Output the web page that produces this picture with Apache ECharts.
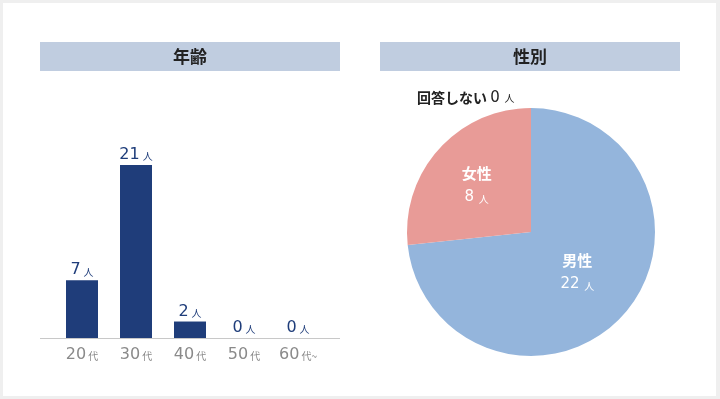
<!DOCTYPE html>
<html><head><meta charset="utf-8">
<script src="https://cdn.jsdelivr.net/npm/echarts@6/dist/echarts.min.js"></script>
<style>html,body{margin:0;padding:0;background:#fff}#c{width:720px;height:399px}</style>
</head><body><div id="c"></div>
<script>
const ageCategories = ['20', '30', '40', '50', '60'];
const ageSuffix = ['代', '代', '代', '代', '代~'];
const ageValues = [7, 21, 2, 0, 0];
const genderNames = ['男性', '女性'];
const genderValues = [22, 8];
const noAnswerName = '回答しない';
const noAnswerValue = 0;
const unit = '人';

const jp = '"Noto Sans CJK JP", sans-serif';
const num = '"DejaVu Sans", sans-serif';
const chart = echarts.init(document.getElementById('c'));
chart.setOption({
  backgroundColor: '#efefef',
  animation: false,
  graphic: [
    {type: 'rect', shape: {x: 3, y: 3, width: 713, height: 393}, style: {fill: '#fff'}, z: -10},
    {type: 'rect', shape: {x: 40, y: 42, width: 300, height: 29}, style: {fill: '#c0cde0'}},
    {type: 'text', x: 190, y: 57, style: {text: '年齢', font: 'bold 17px ' + jp, fill: '#222', align: 'center', verticalAlign: 'middle'}},
    {type: 'rect', shape: {x: 380, y: 42, width: 300, height: 29}, style: {fill: '#c0cde0'}},
    {type: 'text', x: 530, y: 57, style: {text: '性別', font: 'bold 17px ' + jp, fill: '#222', align: 'center', verticalAlign: 'middle'}},
    {type: 'line', shape: {x1: 40, y1: 338.5, x2: 340, y2: 338.5}, style: {stroke: '#c8c8c8', lineWidth: 1}, z: 5},
    {type: 'text', x: 417, y: 98, style: {
      text: '{n|' + noAnswerName + ' }{v|' + noAnswerValue + ' }{u|' + unit + '}',
      rich: {n: {font: 'bold 14px ' + jp, fill: '#222'}, v: {font: '15px ' + num, fill: '#222'}, u: {font: '10px ' + jp, fill: '#222'}},
      verticalAlign: 'middle'}}
  ],
  grid: {left: 55, width: 270, top: 132, height: 206},
  xAxis: {
    type: 'category', data: ageCategories,
    axisLine: {show: false}, axisTick: {show: false},
    axisLabel: {
      interval: 0, margin: 9,
      formatter: (v, i) => '{n|' + v + '}{s|' + ageSuffix[i] + '}',
      rich: {n: {fontSize: 16, color: '#8a8a8a', fontFamily: num}, s: {fontSize: 10, color: '#8a8a8a', fontFamily: jp, padding: [3, 0, 0, 2]}}
    }
  },
  yAxis: {type: 'value', min: 0, max: 25, show: false, splitLine: {show: false}},
  series: [
    {
      type: 'bar', data: ageValues, barWidth: 32,
      itemStyle: {color: '#1f3d7a'},
      label: {
        show: true, position: 'top', distance: 2,
        formatter: p => '{n|' + p.value + '}{u|' + unit + '}',
        rich: {n: {fontSize: 16, color: '#1f3d7a', fontFamily: num}, u: {fontSize: 10, color: '#1f3d7a', fontFamily: jp, padding: [3, 0, 0, 3]}}
      }
    },
    {
      type: 'pie', center: [531, 232], radius: [0, 124], startAngle: 90, clockwise: true,
      data: genderNames.map((n, i) => ({name: n, value: genderValues[i]})),
      color: ['#94b5dc', '#e89b97'],
      label: {
        show: true, position: 'inside', lineHeight: 24,
        formatter: p => '{n|' + p.name + '}\n{v|' + p.value + ' }{u|' + unit + '}',
        rich: {n: {fontSize: 15, fontWeight: 'bold', color: '#fff', fontFamily: jp, lineHeight: 24},
               v: {fontSize: 15, color: '#fff', fontFamily: num, lineHeight: 24},
               u: {fontSize: 10, color: '#fff', fontFamily: jp, lineHeight: 24, padding: [3, 0, 0, 0]}}
      },
      labelLayout: p => ({dx: p.dataIndex === 1 ? -6 : -2, dy: -3}),
      labelLine: {show: false},
      itemStyle: {borderWidth: 0}
    }
  ]
});
</script></body></html>
